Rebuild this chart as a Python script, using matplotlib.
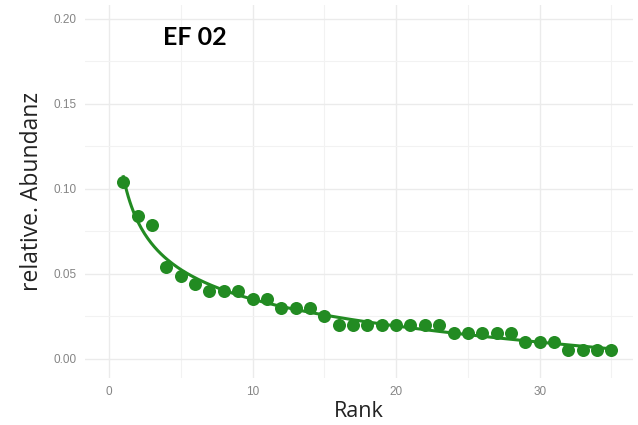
import numpy as np
import matplotlib
matplotlib.use("Agg")
import matplotlib.pyplot as plt
from matplotlib.ticker import MultipleLocator

rank = list(range(1, 36))
abundance = [0.104, 0.084, 0.079, 0.054, 0.049, 0.044, 0.040, 0.040, 0.040,
             0.035, 0.035, 0.030, 0.030, 0.030, 0.025,
             0.020, 0.020, 0.020, 0.020, 0.020, 0.020, 0.020, 0.020,
             0.015, 0.015, 0.015, 0.015, 0.015,
             0.010, 0.010, 0.010,
             0.005, 0.005, 0.005, 0.005]
title_text = "EF 02"
x_label = "Rank"
y_label = "relative. Abundanz"
x_ticks = [0, 10, 20, 30]
y_ticks = [0.00, 0.05, 0.10, 0.15, 0.20]

# smooth trend fitted to the data (least squares in 1, log x, x, log^2 x)
x = np.array(rank, float)
xs = np.linspace(min(rank), max(rank), 300)


def basis(v):
    return np.vstack([np.ones_like(v), np.log(v), v, np.log(v) ** 2]).T


coef = np.linalg.lstsq(basis(x), np.array(abundance), rcond=None)[0]
ys = basis(xs) @ coef

plt.rcParams['font.family'] = ['Open Sans', 'DejaVu Sans']

fig = plt.figure(figsize=(6.38, 4.25), dpi=100)
ax = fig.add_axes([85 / 638, 1 - 378 / 425, (633 - 85) / 638, (378 - 5) / 425])

green = "#228B22"
ax.plot(xs, ys, color=green, lw=2.2, zorder=3)
ax.scatter(rank, abundance, s=88, color=green, zorder=4, linewidths=0)

ax.set_xlim(-1.67, 36.5)
ax.set_ylim(-0.0112, 0.2082)
ax.set_xticks(x_ticks)
ax.set_yticks(y_ticks)
ax.xaxis.set_minor_locator(MultipleLocator(5))
ax.yaxis.set_minor_locator(MultipleLocator(0.025))
ax.set_yticklabels([f"{v:.2f}" for v in y_ticks])
ax.grid(True, which="major", color="#ebebeb", lw=1.0)
ax.grid(True, which="minor", color="#f2f2f2", lw=0.8)
ax.set_axisbelow(True)
for s in ax.spines.values():
    s.set_visible(False)
ax.tick_params(which="both", length=0, labelsize=8.5, labelcolor="#858585", pad=6)
for lab in ax.get_xticklabels() + ax.get_yticklabels():
    lab.set_fontfamily(["Liberation Sans", "DejaVu Sans"])

ax.set_xlabel(x_label, fontsize=15.5, color="#222222", labelpad=2)
ax.set_ylabel(y_label, fontsize=16.5, color="#222222", labelpad=7)

ax.text(6.0, 0.189, title_text, fontsize=18, fontweight="bold",
        family=["Lato", "DejaVu Sans"], ha="center", va="center", color="black")

fig.savefig("out.png", dpi=100)
